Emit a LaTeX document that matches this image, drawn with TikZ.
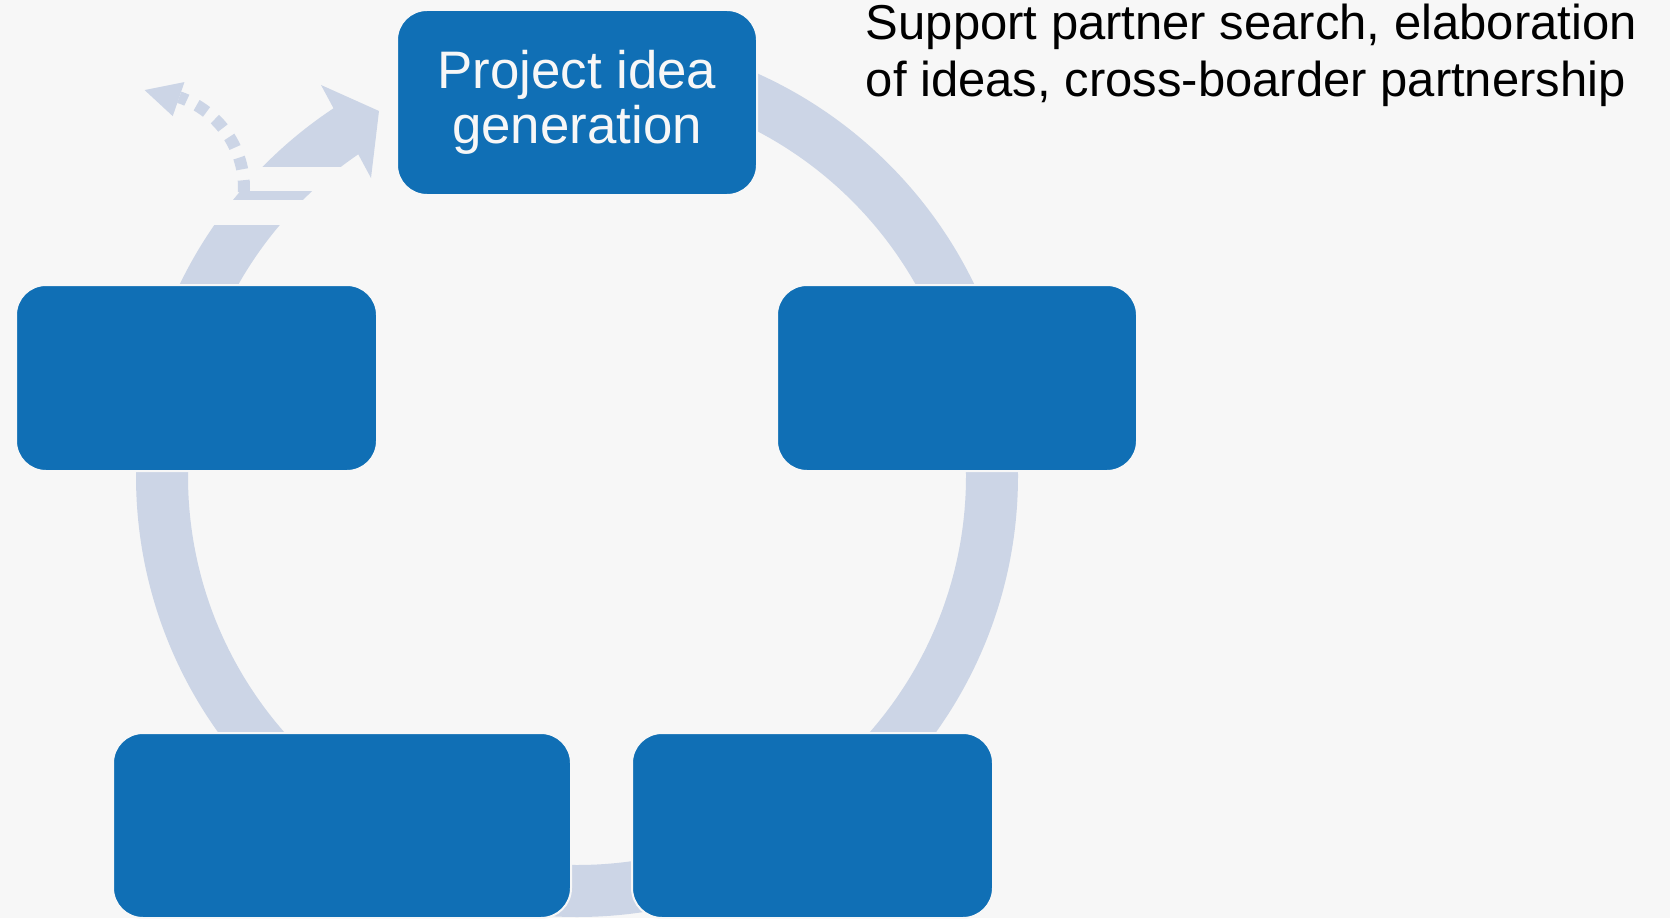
\documentclass[tikz,border=0pt]{standalone}
\usepackage{fontspec}
\setmainfont{Liberation Sans}
\definecolor{bg}{RGB}{247,247,247}
\definecolor{boxblue}{RGB}{16,111,181}
\definecolor{ringblue}{RGB}{204,213,230}
\tikzset{
  stagebox/.style={fill=boxblue, draw=bg, line width=1pt, rounded corners=15pt,
    inner sep=0pt, outer sep=0pt, text=bg, align=center,
    font=\fontsize{26.4pt}{27.5pt}\selectfont},
  ringfill/.style={fill=ringblue},
}
\begin{document}
\begin{tikzpicture}[x=0.5pt,y=0.5pt]
\useasboundingbox (0,0) rectangle (1670,918);
\fill[bg] (0,0) rectangle (1670,918);
\clip (0,0) rectangle (1670,918);
\coordinate (C) at (577,442);
\coordinate (D) at (148,730);
% main ring, with the upper-left part left open
\begin{scope}
  \clip (0,0) -- (1670,0) -- (1670,918) -- (577,918) -- (577,693) -- (0,693) -- cycle;
  \fill[ringfill, even odd rule] (C) circle[radius=441] (C) circle[radius=389];
\end{scope}
% thin slice of the ring
\begin{scope}
  \clip (0,719) rectangle (450,727);
  \fill[ringfill, even odd rule] (C) circle[radius=441] (C) circle[radius=389];
\end{scope}
% arrow into the first stage
\fill[ringfill] ([shift={(C)}]135.5:441) arc[start angle=135.5, end angle=123, radius=441]
  -- ([shift={(C)}]123:389) arc[start angle=123, end angle=127.4, radius=389] -- cycle;
\coordinate (h1) at (321,833);
\coordinate (h2) at (379,807);
\coordinate (h3) at (371,740);
\fill[ringfill] (h1) -- (h2) -- (h3) -- cycle;
% dotted arrow leaving the cycle
\draw[draw=ringblue, line width=6pt, dash pattern=on 6pt off 5.5pt]
  ([shift={(D)}]-2.5:96) arc[start angle=-2.5, end angle=71, radius=96];
\fill[ringfill] ([shift={(D)}]71:76) -- ([shift={(D)}]71:112) -- ([shift={(D)}]92:98) -- cycle;
% stages
\node[stagebox, minimum width=180pt, minimum height=92.5pt] (idea) at (577,815.5) {Project idea\\generation};
\node[stagebox, minimum width=180.5pt, minimum height=93pt] (left) at (196.5,540) {};
\node[stagebox, minimum width=180pt, minimum height=93pt] (right) at (957,540) {};
\node[stagebox, minimum width=229pt, minimum height=92.5pt] (botleft) at (342,92.5) {};
\node[stagebox, minimum width=180.5pt, minimum height=92.5pt] (botright) at (812.5,92.5) {};
% note
\node[anchor=base west, inner sep=0pt, align=left, font=\fontsize{24.5pt}{28.5pt}\selectfont] (note)
  at (865.5,821) {Support partner search, elaboration\\of ideas, cross-boarder partnership};
\end{tikzpicture}
\end{document}
